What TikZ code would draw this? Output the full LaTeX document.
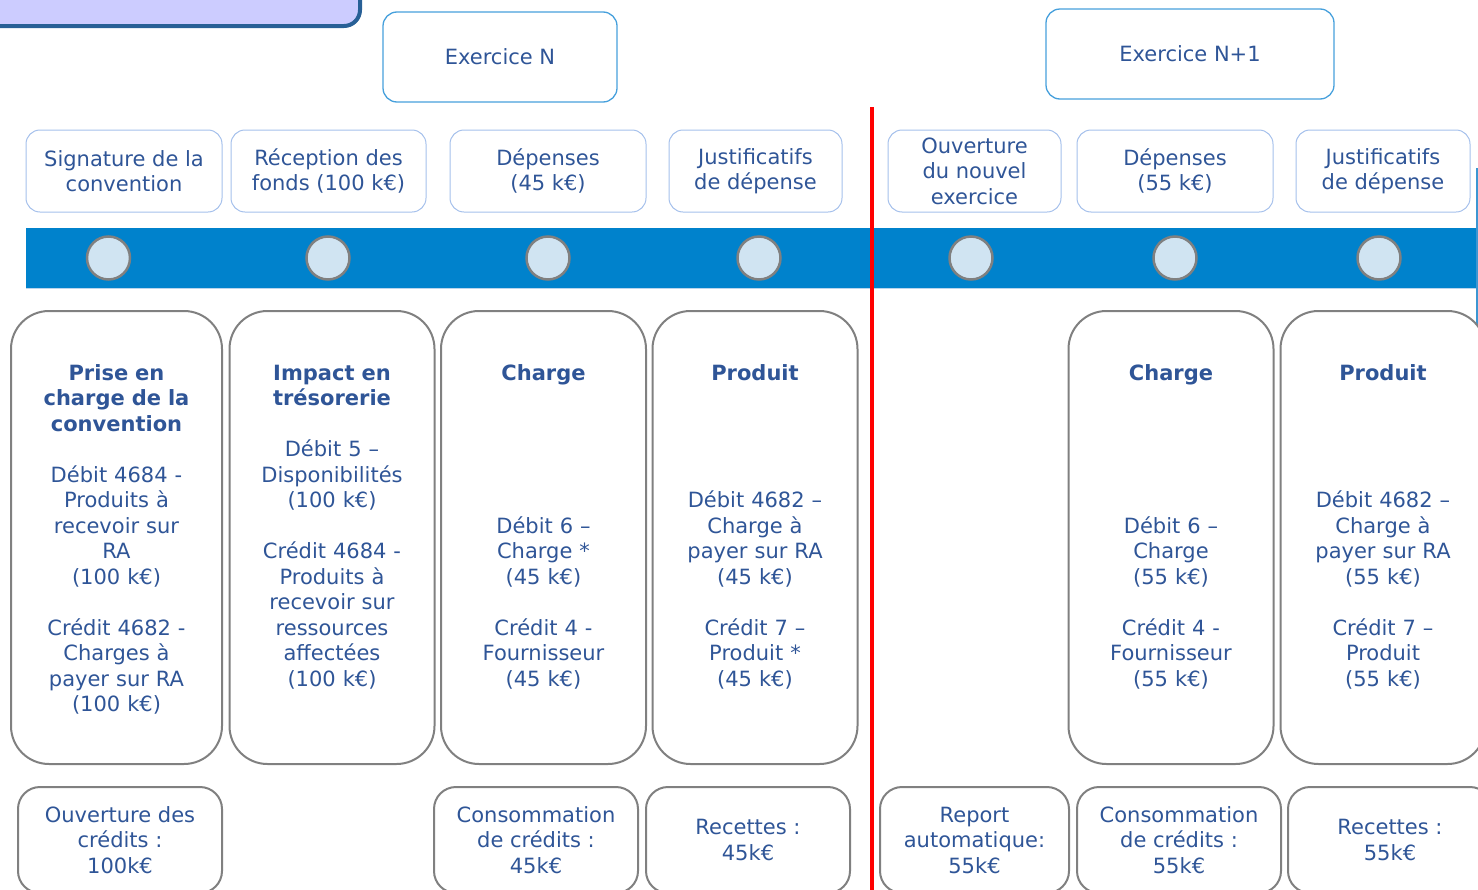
\documentclass[tikz,border=0pt]{standalone}
\usepackage{fontspec}
\setmainfont{DejaVu Sans}
\definecolor{txt}{RGB}{47,85,151}
\definecolor{hdrblue}{RGB}{70,160,220}
\definecolor{evtblue}{RGB}{165,192,235}
\definecolor{boxgray}{RGB}{128,128,128}
\definecolor{band}{RGB}{0,130,204}
\definecolor{bandedge}{RGB}{185,212,236}
\definecolor{dotfill}{RGB}{208,228,242}
\definecolor{lav}{RGB}{204,204,255}
\definecolor{navy}{RGB}{40,96,150}
\definecolor{edgeblue}{RGB}{60,150,210}
\tikzset{
  every node/.style={font=\fontsize{21}{25.5}\selectfont},
  hdr/.style={draw=hdrblue, line width=1.3pt, rounded corners=14pt, inner sep=0pt, text=txt},
  evt/.style={draw=evtblue, line width=1pt, rounded corners=14pt, inner sep=0pt, align=center, text=txt, minimum height=82pt},
  big/.style={draw=boxgray, line width=2pt, rounded corners=38pt, inner sep=0pt, minimum width=205pt, minimum height=453pt},
  btm/.style={draw=boxgray, line width=2pt, rounded corners=22pt, inner sep=0pt, align=center, text=txt, minimum width=204pt, minimum height=106pt},
  dot/.style={circle, draw=boxgray, line width=2.5pt, fill=dotfill, minimum size=43pt, inner sep=0pt},
  body/.style={text=txt, align=center, text width=200pt, anchor=base, inner sep=0pt}
}
\begin{document}
\begin{tikzpicture}[x=1pt,y=-1pt]
\useasboundingbox (0,0) rectangle (1478,889);
\clip (0,0) rectangle (1478,889);

% top-left title box (cut off)
\draw[fill=lav, draw=navy, line width=4pt, rounded corners=16pt] (-30,-40) rectangle (360,26);

% exercice headers
\node[hdr, minimum width=234pt, minimum height=90pt] (exN) at (500,57) {Exercice N};
\node[hdr, minimum width=288pt, minimum height=90pt] (exN1) at (1190,54) {Exercice N+1};

% timeline band
\fill[band] (26,228) rectangle (1478,288);
\draw[bandedge, line width=1pt] (26,288.5) -- (1478,288.5);

% event boxes
\node[evt, minimum width=196pt] (e1) at (124,171) {Signature de la\\convention};
\node[evt, minimum width=195pt] (e2) at (328.5,171) {Réception des\\fonds (100 k€)};
\node[evt, minimum width=196pt] (e3) at (548,171) {Dépenses\\(45 k€)};
\node[evt, minimum width=173pt] (e4) at (755.5,171) {Justificatifs\\de dépense};
\node[evt, minimum width=173pt] (e5) at (974.5,171) {Ouverture\\du nouvel\\exercice};
\node[evt, minimum width=196pt] (e6) at (1175,171) {Dépenses\\(55 k€)};
\node[evt, minimum width=174pt] (e7) at (1383,171) {Justificatifs\\de dépense};

% dots
\node[dot] (d1) at (108.5,258) {};
\node[dot] (d2) at (328,258) {};
\node[dot] (d3) at (548,258) {};
\node[dot] (d4) at (759,258) {};
\node[dot] (d5) at (971,258) {};
\node[dot] (d6) at (1175,258) {};
\node[dot] (d7) at (1379,258) {};

% right edge line
\draw[edgeblue, line width=1.5pt] (1477,168) -- (1477,325);

% big boxes
\node[big, minimum width=211pt] (b1) at (116.5,537.5) {};
\node[big] (b2) at (332,537.5) {};
\node[big] (b3) at (543.5,537.5) {};
\node[big] (b4) at (755,537.5) {};
\node[big] (b6) at (1171,537.5) {};
\node[big] (b7) at (1383,537.5) {};

\node[body] (t1) at (116.5,380) {\textbf{Prise en}\\\textbf{charge de la}\\\textbf{convention}\\[25.5pt]Débit 4684 -\\Produits à\\recevoir sur\\RA\\(100 k€)\\[25.5pt]Crédit 4682 -\\Charges à\\payer sur RA\\(100 k€)};
\node[body] (t2) at (332,380) {\textbf{Impact en}\\\textbf{trésorerie}\\[25.5pt]Débit 5 –\\Disponibilités\\(100 k€)\\[25.5pt]Crédit 4684 -\\Produits à\\recevoir sur\\ressources\\affectées\\(100 k€)};
\node[body] (t3) at (543.5,380) {\textbf{Charge}\\[127.5pt]Débit 6 –\\Charge *\\(45 k€)\\[25.5pt]Crédit 4 -\\Fournisseur\\(45 k€)};
\node[body] (t4) at (755,380) {\textbf{Produit}\\[102pt]Débit 4682 –\\Charge à\\payer sur RA\\(45 k€)\\[25.5pt]Crédit 7 –\\Produit *\\(45 k€)};
\node[body] (t6) at (1171,380) {\textbf{Charge}\\[127.5pt]Débit 6 –\\Charge\\(55 k€)\\[25.5pt]Crédit 4 -\\Fournisseur\\(55 k€)};
\node[body] (t7) at (1383,380) {\textbf{Produit}\\[102pt]Débit 4682 –\\Charge à\\payer sur RA\\(55 k€)\\[25.5pt]Crédit 7 –\\Produit\\(55 k€)};

% bottom boxes
\node[btm] (c1) at (120,840) {Ouverture des\\crédits :\\100k€};
\node[btm] (c3) at (536,840) {Consommation\\de crédits :\\45k€};
\node[btm] (c4) at (748,840) {Recettes :\\45k€};
\node[btm, minimum width=189pt] (c5) at (974.5,840) {Report\\automatique:\\55k€};
\node[btm] (c6) at (1179,840) {Consommation\\de crédits :\\55k€};
\node[btm] (c7) at (1390,840) {Recettes :\\55k€};

% red year separator
\draw[red, line width=4pt] (872,107) -- (872,895);
\end{tikzpicture}
\end{document}
